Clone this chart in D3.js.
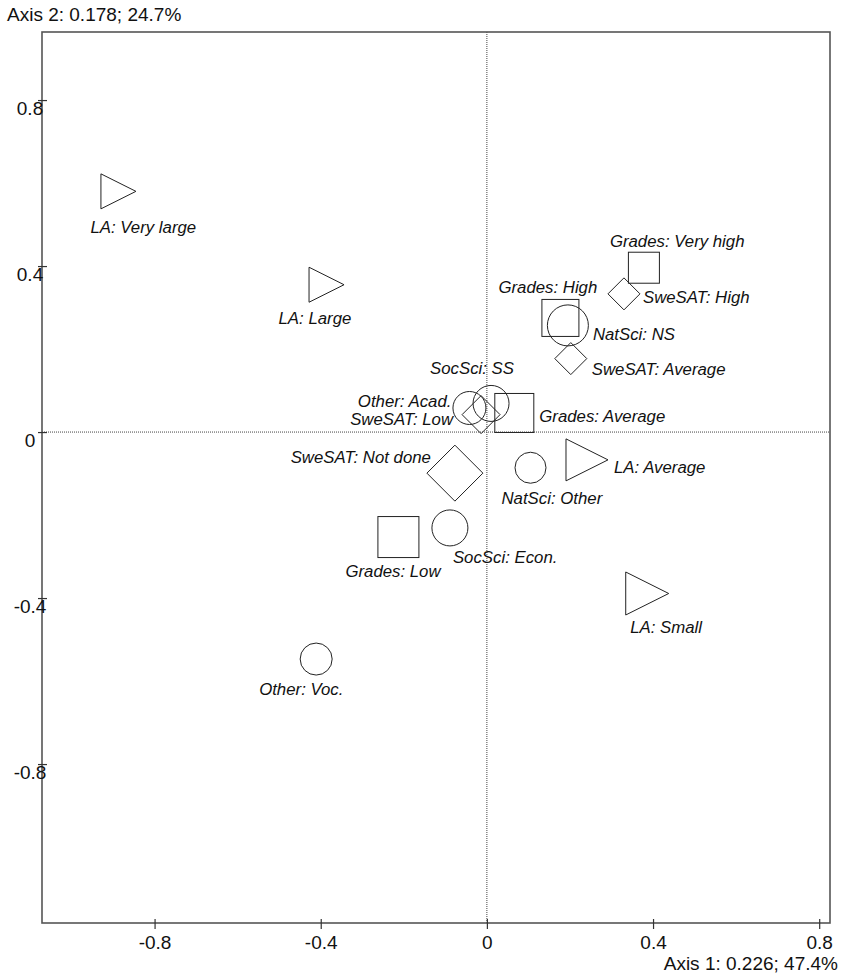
<!DOCTYPE html>
<html>
<head>
<meta charset="utf-8">
<script src="https://cdn.jsdelivr.net/npm/d3@7/dist/d3.min.js"></script>
<style>
  html, body { margin: 0; padding: 0; background: #fff; }
  svg { display: block; }
  text { font-family: "Liberation Sans", Arial, Helvetica, sans-serif; fill: #111; }
  .pt-label { font-style: italic; font-size: 16.8px; }
  .axis-text { font-size: 19px; }
</style>
</head>
<body>
<svg id="chart" width="842" height="973"></svg>
<script>
// Category points on the first two correspondence axes
const labels = [
  "LA: Very large", "LA: Large", "LA: Average", "LA: Small",
  "Grades: Very high", "Grades: High", "Grades: Average", "Grades: Low",
  "SweSAT: High", "SweSAT: Average", "SweSAT: Low", "SweSAT: Not done",
  "NatSci: NS", "NatSci: Other",
  "SocSci: SS", "SocSci: Econ.",
  "Other: Acad.", "Other: Voc."
];
const groups = [
  "LA", "LA", "LA", "LA",
  "Grades", "Grades", "Grades", "Grades",
  "SweSAT", "SweSAT", "SweSAT", "SweSAT",
  "NatSci", "NatSci",
  "SocSci", "SocSci",
  "Other", "Other"
];
const axis1 = [
  -0.887, -0.386, 0.241, 0.386,
  0.378, 0.177, 0.066, -0.213,
  0.330, 0.202, -0.014, -0.077,
  0.195, 0.105,
  0.010, -0.089,
  -0.042, -0.411
];
const axis2 = [
  0.580, 0.355, -0.067, -0.389,
  0.396, 0.275, 0.046, -0.253,
  0.333, 0.177, 0.042, -0.099,
  0.257, -0.086,
  0.069, -0.231,
  0.058, -0.547
];
// Relative marker weight of each category
const weights = [
  35, 35, 42, 43,
  31, 37, 39, 41,
  32, 32, 38, 56,
  41, 31,
  36, 36,
  33, 32
];
const xTickValues = [-0.8, -0.4, 0, 0.4, 0.8];
const yTickValues = [0.8, 0.4, 0, -0.4, -0.8];
const xAxisTitle = "Axis 1: 0.226; 47.4%";
const yAxisTitle = "Axis 2: 0.178; 24.7%";

// Label placement: offset of the text anchor from the marker centre
const labelPlacement = {
  "LA: Very large":    { dx: -28,  dy: 42,  anchor: "start" },
  "LA: Large":         { dx: -48,  dy: 39,  anchor: "start" },
  "LA: Average":       { dx: 27,   dy: 13,  anchor: "start" },
  "LA: Small":         { dx: -17,  dy: 40,  anchor: "start" },
  "Grades: Very high": { dx: -34,  dy: -21, anchor: "start" },
  "Grades: High":      { dx: -62,  dy: -25, anchor: "start" },
  "Grades: Average":   { dx: 25,   dy: 9,   anchor: "start" },
  "Grades: Low":       { dx: -53,  dy: 40,  anchor: "start" },
  "SweSAT: High":      { dx: 19,   dy: 9,   anchor: "start" },
  "SweSAT: Average":   { dx: 21,   dy: 16,  anchor: "start" },
  "SweSAT: Low":       { dx: -28,  dy: 10,  anchor: "end" },
  "SweSAT: Not done":  { dx: -24,  dy: -10, anchor: "end" },
  "NatSci: NS":        { dx: 25,   dy: 15,  anchor: "start" },
  "NatSci: Other":     { dx: -29,  dy: 36,  anchor: "start" },
  "SocSci: SS":        { dx: -61,  dy: -29, anchor: "start" },
  "SocSci: Econ.":     { dx: 3,    dy: 35,  anchor: "start" },
  "Other: Acad.":      { dx: -18,  dy: -1,  anchor: "end" },
  "Other: Voc.":       { dx: -57,  dy: 36,  anchor: "start" }
};

const shapeOf = { LA: "triangle", Grades: "square", SweSAT: "diamond", NatSci: "circle", SocSci: "circle", Other: "circle" };

const points = labels.map((name, i) => ({
  name, group: groups[i], a1: axis1[i], a2: axis2[i], w: weights[i]
}));

const svg = d3.select("#chart");
const frame = { left: 42, right: 830, top: 32, bottom: 923 };

const x = d3.scaleLinear().domain([-1.071, 0.826]).range([frame.left, frame.right]);
const y = d3.scaleLinear().domain([-1.183, 0.964]).range([frame.bottom, frame.top]);
const size = d3.scaleLinear().domain([0, 100]).range([0, 100]);

// Dotted origin lines
svg.append("line")
  .attr("x1", x(0)).attr("x2", x(0))
  .attr("y1", frame.top).attr("y2", frame.bottom)
  .attr("stroke", "#444").attr("stroke-width", 1).attr("stroke-dasharray", "1,1");
svg.append("line")
  .attr("x1", frame.left).attr("x2", frame.right)
  .attr("y1", y(0)).attr("y2", y(0))
  .attr("stroke", "#444").attr("stroke-width", 1).attr("stroke-dasharray", "1,1");

// Frame
svg.append("rect")
  .attr("x", frame.left).attr("y", frame.top)
  .attr("width", frame.right - frame.left).attr("height", frame.bottom - frame.top)
  .attr("fill", "none").attr("stroke", "#555").attr("stroke-width", 1.6);

// Bottom axis
const gx = svg.append("g")
  .attr("transform", `translate(0,${frame.bottom})`)
  .call(d3.axisBottom(x).tickValues(xTickValues).tickFormat(d => String(d)).tickSize(0));
gx.select(".domain").remove();
gx.selectAll(".tick line").attr("y1", -4).attr("y2", 6).attr("stroke", "#333").attr("stroke-width", 1.2);
gx.selectAll(".tick text")
  .attr("class", "axis-text")
  .attr("y", 26).attr("dy", null)
  .attr("font-size", null).attr("font-family", null)
  .style("font-size", "19px");

// Left axis
const gy = svg.append("g")
  .attr("transform", `translate(${frame.left},0)`)
  .call(d3.axisLeft(y).tickValues(yTickValues).tickFormat(d => String(d)).tickSize(0));
gy.select(".domain").remove();
gy.selectAll(".tick line").attr("x1", -4).attr("x2", 5).attr("stroke", "#333").attr("stroke-width", 1.2);
gy.selectAll(".tick text")
  .attr("class", "axis-text")
  .attr("x", -12).attr("dy", null).attr("y", 14)
  .attr("text-anchor", "middle")
  .attr("font-size", null).attr("font-family", null)
  .style("font-size", "19px");

// Axis titles
svg.append("text").attr("class", "axis-text")
  .attr("x", 7).attr("y", 21).text(yAxisTitle);
svg.append("text").attr("class", "axis-text")
  .attr("x", 838).attr("y", 970).attr("text-anchor", "end").text(xAxisTitle);

// Markers
const marks = svg.append("g")
  .attr("fill", "none").attr("stroke", "#222").attr("stroke-width", 1);

points.forEach(p => {
  const cx = x(p.a1), cy = y(p.a2), s = size(p.w), h = s / 2;
  const shape = shapeOf[p.group];
  if (shape === "circle") {
    marks.append("circle").attr("cx", cx).attr("cy", cy).attr("r", h);
  } else if (shape === "square") {
    marks.append("rect").attr("x", cx - h).attr("y", cy - h).attr("width", s).attr("height", s);
  } else if (shape === "diamond") {
    marks.append("path").attr("d",
      `M${cx},${cy - h}L${cx + h},${cy}L${cx},${cy + h}L${cx - h},${cy}Z`);
  } else {
    marks.append("path").attr("d",
      `M${cx - h},${cy - h}L${cx + h},${cy}L${cx - h},${cy + h}Z`);
  }
});

// Category labels
svg.append("g").selectAll("text")
  .data(points)
  .join("text")
  .attr("class", "pt-label")
  .attr("x", d => x(d.a1) + labelPlacement[d.name].dx)
  .attr("y", d => y(d.a2) + labelPlacement[d.name].dy)
  .attr("text-anchor", d => labelPlacement[d.name].anchor)
  .text(d => d.name);
</script>
</body>
</html>
